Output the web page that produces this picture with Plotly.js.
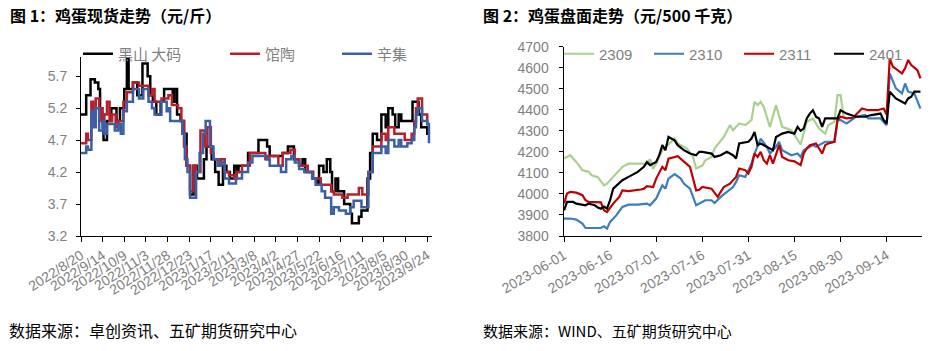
<!DOCTYPE html>
<html>
<head>
<meta charset="utf-8">
<script src="https://cdn.plot.ly/plotly-3.0.1.min.js"></script>
<style>html,body{margin:0;padding:0;background:#fff;}#chart{width:936px;height:351px;}</style>
</head>
<body>
<div id="chart"></div>
<script>
// ---------- Chart 1: spot egg prices (元/斤) ----------
const heishanDates = ['2022-08-20','2022-08-26','2022-08-31','2022-09-05','2022-09-09','2022-09-11','2022-09-13','2022-09-15','2022-09-19','2022-09-24','2022-09-30','2022-10-04','2022-10-09','2022-10-12','2022-10-14','2022-10-19','2022-10-24','2022-10-30','2022-11-05','2022-11-08','2022-11-11','2022-11-15','2022-11-20','2022-11-24','2022-12-04','2022-12-06','2022-12-09','2022-12-13','2022-12-17','2022-12-20','2022-12-24','2022-12-28','2023-01-01','2023-01-09','2023-01-12','2023-01-18','2023-01-22','2023-01-26','2023-01-31','2023-02-04','2023-02-08','2023-02-13','2023-02-16','2023-02-18','2023-03-01','2023-03-13','2023-03-23','2023-03-26','2023-04-10','2023-04-16','2023-04-23','2023-04-29','2023-05-03','2023-05-06','2023-05-15','2023-05-19','2023-05-22','2023-05-27','2023-05-31','2023-06-04','2023-06-06','2023-06-10','2023-06-13','2023-06-20','2023-06-27','2023-06-29','2023-07-07','2023-07-10','2023-07-17','2023-07-20','2023-07-23','2023-07-28','2023-08-02','2023-08-07','2023-08-10','2023-08-15','2023-08-18','2023-08-22','2023-08-25','2023-09-07','2023-09-14','2023-09-17','2023-09-24','2023-09-26'];
const heishanValues = [5.1,5.4,5.65,5.6,5.5,5.2,5.1,4.7,5.0,5.2,5.0,5.2,5.5,5.98,5.5,5.6,5.4,5.9,5.7,5.4,5.3,5.1,5.3,5.5,5.3,5.5,5.1,5.0,4.8,4.3,3.85,4.3,4.1,4.4,4.6,4.4,4.2,4.0,4.3,4.2,4.1,4.3,4.2,4.3,4.5,4.7,4.6,4.45,4.5,4.6,4.4,4.3,4.4,4.2,4.1,4.0,4.3,4.2,4.4,4.2,3.9,4.1,3.9,3.7,3.55,3.4,3.5,3.6,4.1,4.5,4.8,4.7,5.1,4.9,5.2,5.1,4.9,5.1,5.0,5.3,5.1,4.9,4.8,4.8];

const guantaoDates = ['2022-08-20','2022-08-26','2022-08-28','2022-09-01','2022-09-03','2022-09-06','2022-09-10','2022-09-12','2022-09-14','2022-09-16','2022-09-19','2022-09-22','2022-09-25','2022-09-29','2022-10-02','2022-10-08','2022-10-12','2022-10-19','2022-10-26','2022-11-06','2022-11-10','2022-11-13','2022-11-21','2022-11-29','2022-12-03','2022-12-10','2022-12-14','2022-12-17','2022-12-20','2022-12-24','2022-12-28','2022-12-31','2023-01-05','2023-01-10','2023-01-13','2023-01-17','2023-01-20','2023-01-26','2023-01-29','2023-02-02','2023-02-07','2023-02-13','2023-02-16','2023-02-22','2023-03-03','2023-03-17','2023-03-21','2023-03-25','2023-04-05','2023-04-10','2023-04-19','2023-04-24','2023-04-29','2023-05-09','2023-05-15','2023-05-24','2023-06-05','2023-06-08','2023-06-18','2023-06-24','2023-07-07','2023-07-11','2023-07-18','2023-07-23','2023-08-02','2023-08-07','2023-08-10','2023-08-17','2023-08-29','2023-09-06','2023-09-09','2023-09-11','2023-09-13','2023-09-18','2023-09-24','2023-09-26'];
const guantaoValues = [4.65,4.8,4.7,5.3,5.1,5.35,5.0,5.2,4.9,5.1,5.3,5.0,5.1,4.9,5.0,5.3,5.45,5.6,5.55,5.4,5.5,5.3,5.35,5.4,5.25,5.2,5.0,4.6,4.3,3.9,4.3,4.2,4.85,4.6,4.9,4.5,4.4,4.3,4.4,4.2,4.15,4.1,4.2,4.3,4.5,4.5,4.4,4.45,4.3,4.5,4.55,4.4,4.3,4.2,4.1,4.0,3.9,3.85,3.8,3.85,3.95,3.85,4.2,4.6,4.8,4.7,4.9,4.8,4.7,4.8,5.0,5.2,5.35,5.1,4.95,4.95];

const xinjiDates = ['2022-08-20','2022-08-26','2022-08-28','2022-09-01','2022-09-04','2022-09-06','2022-09-10','2022-09-14','2022-09-16','2022-09-19','2022-09-28','2022-10-02','2022-10-05','2022-10-08','2022-10-12','2022-10-19','2022-10-26','2022-10-31','2022-11-06','2022-11-10','2022-11-13','2022-11-21','2022-11-27','2022-11-29','2022-12-01','2022-12-15','2022-12-18','2022-12-21','2022-12-24','2022-12-31','2023-01-04','2023-01-08','2023-01-11','2023-01-16','2023-01-20','2023-01-25','2023-01-29','2023-02-02','2023-02-07','2023-02-15','2023-02-22','2023-03-01','2023-03-06','2023-03-23','2023-03-26','2023-04-08','2023-04-14','2023-04-20','2023-04-24','2023-04-29','2023-05-05','2023-05-14','2023-05-18','2023-05-25','2023-05-29','2023-06-05','2023-06-08','2023-06-14','2023-06-22','2023-06-27','2023-07-01','2023-07-10','2023-07-18','2023-07-23','2023-08-02','2023-08-07','2023-08-10','2023-08-17','2023-08-22','2023-08-25','2023-09-01','2023-09-06','2023-09-09','2023-09-11','2023-09-13','2023-09-18','2023-09-24','2023-09-26'];
const xinjiValues = [4.5,4.6,4.55,5.15,4.9,5.2,4.85,5.0,4.8,4.95,4.85,4.95,4.8,5.15,5.3,5.5,5.35,5.5,5.3,5.2,5.1,5.3,5.15,5.2,5.0,4.8,4.4,4.2,3.8,4.2,4.5,4.8,5.0,4.6,4.4,4.3,4.35,4.1,4.02,4.1,4.2,4.35,4.45,4.4,4.3,4.2,4.4,4.45,4.35,4.25,4.2,4.1,4.0,3.9,3.8,3.55,3.65,3.6,3.55,3.65,3.75,3.65,4.2,4.5,4.6,4.5,4.7,4.6,4.7,4.6,4.65,4.7,4.9,5.1,5.2,5.0,4.95,4.65];

const spotNames = ['黑山 大码','馆陶','辛集'];
const spotTickVals = [3.2,3.7,4.2,4.7,5.2,5.7];

// ---------- Chart 2: futures (元/500千克) ----------
const c2309Dates = ['2023-06-01','2023-06-03','2023-06-05','2023-06-07','2023-06-09','2023-06-10','2023-06-12','2023-06-14','2023-06-15','2023-06-17','2023-06-20','2023-06-22','2023-06-28','2023-06-29','2023-06-30','2023-07-01','2023-07-03','2023-07-07','2023-07-08','2023-07-11','2023-07-13','2023-07-14','2023-07-16','2023-07-17','2023-07-19','2023-07-20','2023-07-23','2023-07-25','2023-07-26','2023-07-28','2023-07-30','2023-08-01','2023-08-02','2023-08-03','2023-08-04','2023-08-05','2023-08-07','2023-08-09','2023-08-10','2023-08-11','2023-08-14','2023-08-16','2023-08-17','2023-08-19','2023-08-21','2023-08-22','2023-08-23','2023-08-25','2023-08-26','2023-08-28','2023-08-29','2023-08-30','2023-08-31'];
const c2309Values = [4168,4184,4152,4113,4105,4089,4080,4041,4049,4081,4129,4144,4144,4165,4120,4144,4208,4263,4240,4216,4176,4121,4135,4160,4176,4216,4271,4327,4303,4335,4327,4351,4438,4422,4438,4414,4319,4422,4367,4319,4303,4256,4235,4343,4359,4335,4311,4287,4327,4343,4470,4470,4367];

const c2310Dates = ['2023-06-01','2023-06-03','2023-06-05','2023-06-07','2023-06-08','2023-06-13','2023-06-14','2023-06-15','2023-06-16','2023-06-18','2023-06-20','2023-06-22','2023-06-25','2023-06-28','2023-06-29','2023-07-01','2023-07-03','2023-07-04','2023-07-05','2023-07-07','2023-07-09','2023-07-10','2023-07-12','2023-07-13','2023-07-14','2023-07-16','2023-07-17','2023-07-19','2023-07-20','2023-07-22','2023-07-24','2023-07-25','2023-07-26','2023-07-27','2023-07-28','2023-07-30','2023-08-01','2023-08-02','2023-08-03','2023-08-04','2023-08-06','2023-08-07','2023-08-09','2023-08-10','2023-08-11','2023-08-14','2023-08-16','2023-08-17','2023-08-18','2023-08-20','2023-08-21','2023-08-22','2023-08-25','2023-08-28','2023-08-29','2023-08-30','2023-09-01','2023-09-04','2023-09-07','2023-09-08','2023-09-12','2023-09-14','2023-09-15','2023-09-17','2023-09-19','2023-09-20','2023-09-21','2023-09-23','2023-09-24','2023-09-25'];
const c2310Values = [3883,3883,3878,3859,3838,3838,3846,3835,3867,3898,3938,3949,3949,3954,3946,3978,4041,4025,4073,4094,4073,4049,4025,3986,3946,3962,3970,3970,3957,3986,4010,4021,4033,4057,4089,4081,4144,4192,4232,4263,4224,4192,4224,4248,4208,4184,4192,4176,4208,4224,4232,4224,4248,4248,4351,4351,4335,4367,4375,4359,4359,4327,4573,4502,4478,4525,4486,4478,4446,4406];

const c2311Dates = ['2023-06-01','2023-06-02','2023-06-03','2023-06-05','2023-06-07','2023-06-08','2023-06-09','2023-06-13','2023-06-14','2023-06-15','2023-06-17','2023-06-19','2023-06-20','2023-06-22','2023-06-26','2023-06-27','2023-06-28','2023-06-30','2023-07-01','2023-07-03','2023-07-04','2023-07-05','2023-07-08','2023-07-10','2023-07-12','2023-07-13','2023-07-14','2023-07-15','2023-07-16','2023-07-19','2023-07-21','2023-07-22','2023-07-23','2023-07-25','2023-07-26','2023-07-27','2023-07-28','2023-07-30','2023-07-31','2023-08-01','2023-08-02','2023-08-03','2023-08-04','2023-08-05','2023-08-06','2023-08-07','2023-08-08','2023-08-10','2023-08-11','2023-08-13','2023-08-15','2023-08-17','2023-08-18','2023-08-19','2023-08-20','2023-08-22','2023-08-23','2023-08-24','2023-08-25','2023-08-26','2023-08-28','2023-08-29','2023-08-30','2023-09-01','2023-09-03','2023-09-05','2023-09-06','2023-09-08','2023-09-11','2023-09-13','2023-09-14','2023-09-15','2023-09-16','2023-09-19','2023-09-20','2023-09-21','2023-09-22','2023-09-24','2023-09-25'];
const c2311Values = [3954,4002,4010,4006,3994,3970,3962,3960,3922,3914,3954,3986,4017,4013,4021,4025,4037,4033,4073,4129,4113,4168,4179,4152,4129,4073,4017,4020,4033,4025,3986,4010,4033,4049,4065,4081,4121,4113,4097,4129,4192,4176,4200,4160,4144,4184,4144,4232,4176,4160,4155,4137,4192,4216,4232,4240,4216,4192,4232,4240,4248,4351,4367,4359,4362,4390,4406,4398,4398,4406,4378,4644,4605,4573,4597,4637,4613,4589,4549];

const c2401Dates = ['2023-06-01','2023-06-02','2023-06-04','2023-06-05','2023-06-08','2023-06-09','2023-06-11','2023-06-12','2023-06-13','2023-06-14','2023-06-15','2023-06-16','2023-06-17','2023-06-19','2023-06-20','2023-06-22','2023-06-25','2023-06-27','2023-06-28','2023-06-29','2023-07-01','2023-07-02','2023-07-03','2023-07-04','2023-07-05','2023-07-07','2023-07-08','2023-07-10','2023-07-12','2023-07-14','2023-07-15','2023-07-16','2023-07-19','2023-07-20','2023-07-22','2023-07-24','2023-07-26','2023-07-27','2023-07-28','2023-07-31','2023-08-01','2023-08-02','2023-08-03','2023-08-04','2023-08-07','2023-08-08','2023-08-09','2023-08-11','2023-08-13','2023-08-15','2023-08-16','2023-08-17','2023-08-18','2023-08-19','2023-08-20','2023-08-21','2023-08-22','2023-08-23','2023-08-24','2023-08-25','2023-08-27','2023-08-29','2023-08-30','2023-09-01','2023-09-04','2023-09-07','2023-09-09','2023-09-12','2023-09-13','2023-09-14','2023-09-15','2023-09-17','2023-09-20','2023-09-21','2023-09-22','2023-09-23','2023-09-25'];
const c2401Values = [3922,3962,3962,3954,3946,3954,3946,3935,3930,3940,3930,3970,4025,4049,4065,4081,4105,4129,4152,4137,4152,4184,4232,4208,4271,4255,4232,4208,4192,4184,4200,4200,4192,4176,4184,4200,4184,4168,4240,4248,4263,4295,4232,4240,4216,4208,4271,4287,4295,4287,4319,4300,4311,4359,4382,4398,4367,4359,4319,4359,4359,4359,4398,4382,4367,4367,4375,4382,4351,4335,4486,4454,4430,4454,4462,4486,4486];

const futNames = ['2309','2310','2311','2401'];

const gray = '#7f7f7f';
const tickFont = {family: 'Liberation Sans, Arial, sans-serif', size: 14, color: gray};
const cjk = 'Noto Sans CJK SC, sans-serif';

const traces = [
  {x: heishanDates, y: heishanValues, name: spotNames[0], type: 'scatter', mode: 'lines', line: {color: '#000000', width: 2.5, shape: 'hv'}, xaxis: 'x', yaxis: 'y', legend: 'legend'},
  {x: guantaoDates, y: guantaoValues, name: spotNames[1], type: 'scatter', mode: 'lines', line: {color: '#B5202C', width: 2.5, shape: 'hv'}, xaxis: 'x', yaxis: 'y', legend: 'legend2'},
  {x: xinjiDates, y: xinjiValues, name: spotNames[2], type: 'scatter', mode: 'lines', line: {color: '#3A5FA5', width: 2.5, shape: 'hv'}, xaxis: 'x', yaxis: 'y', legend: 'legend3'},
  {x: c2309Dates, y: c2309Values, name: futNames[0], type: 'scatter', mode: 'lines', line: {color: '#A9D18E', width: 2.2}, xaxis: 'x2', yaxis: 'y2', legend: 'legend4'},
  {x: c2310Dates, y: c2310Values, name: futNames[1], type: 'scatter', mode: 'lines', line: {color: '#3C7DC0', width: 2.2}, xaxis: 'x2', yaxis: 'y2', legend: 'legend4'},
  {x: c2311Dates, y: c2311Values, name: futNames[2], type: 'scatter', mode: 'lines', line: {color: '#C00000', width: 2.2}, xaxis: 'x2', yaxis: 'y2', legend: 'legend4'},
  {x: c2401Dates, y: c2401Values, name: futNames[3], type: 'scatter', mode: 'lines', line: {color: '#000000', width: 2.2}, xaxis: 'x2', yaxis: 'y2', legend: 'legend4'}
];

const W = 936, H = 351;
const px = v => v / W;
const py = v => 1 - v / H;

const legendBase = {orientation: 'h', xanchor: 'left', yanchor: 'middle', bgcolor: 'rgba(0,0,0,0)', font: {family: cjk, size: 15, color: gray}, itemwidth: 30, tracegroupgap: 0};

const layout = {
  width: W, height: H,
  margin: {l: 0, r: 0, t: 0, b: 0, autoexpand: false},
  paper_bgcolor: '#ffffff', plot_bgcolor: '#ffffff',
  showlegend: true,
  hovermode: false,
  xaxis: {
    type: 'date', domain: [px(81), px(432)], anchor: 'y',
    range: ['2022-08-20', '2023-09-29 12:00'],
    tick0: '2022-08-20', dtick: 25 * 86400000, tickformat: '%Y/%-m/%-d', tickangle: -33,
    ticks: 'outside', ticklen: 5, tickcolor: '#000', showline: true, linecolor: '#000', linewidth: 1,
    showgrid: false, zeroline: false, tickfont: tickFont, automargin: false
  },
  yaxis: {
    domain: [py(236), py(57)], anchor: 'x',
    range: [3.2, 6.0], tickvals: spotTickVals, tickformat: '.1f',
    ticks: 'outside', ticklen: 4, tickcolor: '#000', showline: true, linecolor: '#000', linewidth: 1,
    showgrid: false, zeroline: false, tickfont: tickFont, automargin: false, ticklabelstandoff: 6
  },
  xaxis2: {
    type: 'date', domain: [px(564), px(922)], anchor: 'y2',
    range: ['2023-06-01', '2023-09-25 12:00'],
    tick0: '2023-06-01', dtick: 15 * 86400000, tickformat: '%Y-%m-%d', tickangle: -30,
    ticks: 'outside', ticklen: 5, tickcolor: '#000', showline: true, linecolor: '#000', linewidth: 1,
    showgrid: false, zeroline: false, tickfont: tickFont, automargin: false
  },
  yaxis2: {
    domain: [py(236), py(46.7)], anchor: 'x2',
    range: [3800, 4700], dtick: 100, tick0: 3800,
    ticks: 'outside', ticklen: 4, tickcolor: '#000', showline: true, linecolor: '#000', linewidth: 1.5,
    showgrid: false, zeroline: false, tickfont: tickFont, automargin: false, ticklabelstandoff: 7
  },
  legend:  Object.assign({}, legendBase, {x: px(78), y: py(54)}),
  legend2: Object.assign({}, legendBase, {x: px(225), y: py(54)}),
  legend3: Object.assign({}, legendBase, {x: px(337), y: py(54)}),
  legend4: Object.assign({}, legendBase, {x: px(559), y: py(54), entrywidth: 45, entrywidthmode: 'pixels', font: {family: tickFont.family, size: 15, color: gray}}),
  annotations: [
    {text: '<b>图 1：鸡蛋现货走势（元/斤）</b>', xref: 'paper', yref: 'paper', x: px(8), y: py(15), xanchor: 'left', yanchor: 'middle', showarrow: false, font: {family: cjk, size: 16, color: '#000'}},
    {text: '<b>图 2：鸡蛋盘面走势（元/500 千克）</b>', xref: 'paper', yref: 'paper', x: px(481), y: py(15), xanchor: 'left', yanchor: 'middle', showarrow: false, font: {family: cjk, size: 16, color: '#000'}},
    {text: '数据来源：卓创资讯、五矿期货研究中心', xref: 'paper', yref: 'paper', x: px(7), y: py(330), xanchor: 'left', yanchor: 'middle', showarrow: false, font: {family: cjk, size: 16, color: '#000'}},
    {text: '数据来源：WIND、五矿期货研究中心', xref: 'paper', yref: 'paper', x: px(481), y: py(330), xanchor: 'left', yanchor: 'middle', showarrow: false, font: {family: cjk, size: 15, color: '#000'}}
  ]
};

Plotly.newPlot('chart', traces, layout, {displayModeBar: false, staticPlot: true});
</script>
</body>
</html>
